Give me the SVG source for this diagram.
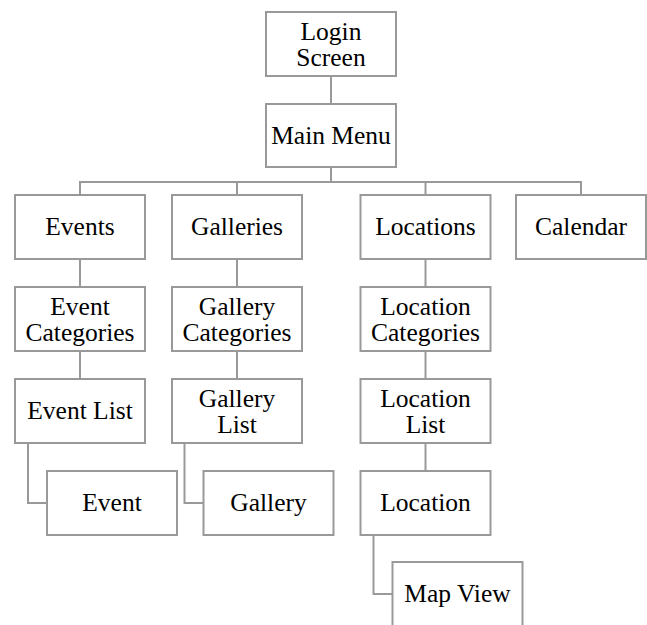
<svg xmlns="http://www.w3.org/2000/svg" width="647" height="625" viewBox="0 0 647 625">
  <style>
    .box rect { fill: #fff; stroke: #999; stroke-width: 2; }
    .box text { font-family: "Liberation Serif", "Times New Roman", serif; font-size: 25.5px; fill: #000; text-anchor: middle; }
    #connectors path { fill: none; stroke: #999; stroke-width: 2; }
  </style>
  <rect width="647" height="625" fill="#fff"/>

  <g id="connectors">
    <path d="M331 76 V104"/>
    <path d="M331 167 V182"/>
    <path d="M80 195 V182 H581 V195"/>
    <path d="M237 182 V195"/>
    <path d="M425.5 182 V195"/>
    <path d="M80 259 V287"/>
    <path d="M80 351 V379"/>
    <path d="M237 259 V287"/>
    <path d="M237 351 V379"/>
    <path d="M425.5 259 V287"/>
    <path d="M425.5 351 V379"/>
    <path d="M425.5 443 V471"/>
    <path d="M28 443 V503 H47"/>
    <path d="M184.5 443 V503 H203.5"/>
    <path d="M373.5 535 V594 H392.5"/>
  </g>

  <g id="login-screen" class="box">
    <rect x="266" y="12" width="130" height="64"/>
    <text transform="translate(331,44)"><tspan x="0" y="-4.5">Login</tspan><tspan x="0" y="21.8">Screen</tspan></text>
  </g>
  <g id="main-menu" class="box">
    <rect x="266" y="104" width="130" height="63"/>
    <text transform="translate(331,135.5)" y="8.3">Main Menu</text>
  </g>

  <g id="events" class="box">
    <rect x="15" y="195" width="130" height="64"/>
    <text transform="translate(80,227)" y="8.3">Events</text>
  </g>
  <g id="galleries" class="box">
    <rect x="172" y="195" width="130" height="64"/>
    <text transform="translate(237,227)" y="8.3">Galleries</text>
  </g>
  <g id="locations" class="box">
    <rect x="360.5" y="195" width="130" height="64"/>
    <text transform="translate(425.5,227)" y="8.3">Locations</text>
  </g>
  <g id="calendar" class="box">
    <rect x="516" y="195" width="130" height="64"/>
    <text transform="translate(581,227)" y="8.3">Calendar</text>
  </g>

  <g id="event-categories" class="box">
    <rect x="15" y="287" width="130" height="64"/>
    <text transform="translate(80,319)"><tspan x="0" y="-4.5">Event</tspan><tspan x="0" y="21.8">Categories</tspan></text>
  </g>
  <g id="gallery-categories" class="box">
    <rect x="172" y="287" width="130" height="64"/>
    <text transform="translate(237,319)"><tspan x="0" y="-4.5">Gallery</tspan><tspan x="0" y="21.8">Categories</tspan></text>
  </g>
  <g id="location-categories" class="box">
    <rect x="360.5" y="287" width="130" height="64"/>
    <text transform="translate(425.5,319)"><tspan x="0" y="-4.5">Location</tspan><tspan x="0" y="21.8">Categories</tspan></text>
  </g>

  <g id="event-list" class="box">
    <rect x="15" y="379" width="130" height="64"/>
    <text transform="translate(80,411)" y="8.3">Event List</text>
  </g>
  <g id="gallery-list" class="box">
    <rect x="172" y="379" width="130" height="64"/>
    <text transform="translate(237,411)"><tspan x="0" y="-4.5">Gallery</tspan><tspan x="0" y="21.8">List</tspan></text>
  </g>
  <g id="location-list" class="box">
    <rect x="360.5" y="379" width="130" height="64"/>
    <text transform="translate(425.5,411)"><tspan x="0" y="-4.5">Location</tspan><tspan x="0" y="21.8">List</tspan></text>
  </g>

  <g id="event" class="box">
    <rect x="47" y="471" width="130" height="64"/>
    <text transform="translate(112,503)" y="8.3">Event</text>
  </g>
  <g id="gallery" class="box">
    <rect x="203.5" y="471" width="130" height="64"/>
    <text transform="translate(268.5,503)" y="8.3">Gallery</text>
  </g>
  <g id="location" class="box">
    <rect x="360.5" y="471" width="130" height="64"/>
    <text transform="translate(425.5,503)" y="8.3">Location</text>
  </g>

  <g id="map-view" class="box">
    <rect x="392.5" y="562" width="130" height="64"/>
    <text transform="translate(457.5,594)" y="8.3">Map View</text>
  </g>
</svg>
